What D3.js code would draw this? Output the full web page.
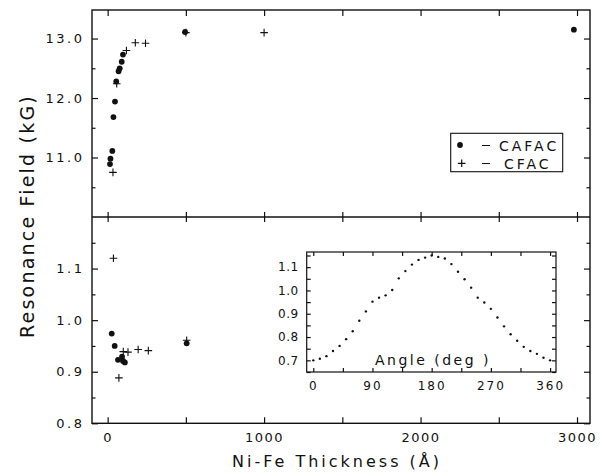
<!DOCTYPE html>
<html>
<head>
<meta charset="utf-8">
<script src="https://cdn.jsdelivr.net/npm/d3@7"></script>
<style>
body { margin: 0; background: #fff; }
svg { display: block; }
text { font-family: "DejaVu Sans", sans-serif; fill: #111; }
.axis path { display: none; }
.axis line { stroke: #111; stroke-width: 1.2; }
</style>
</head>
<body>
<svg id="chart" width="601" height="475"></svg>
<script>
// top panel (kG)
var cafacTopX = [15, 18, 30, 37, 47, 55, 70, 77, 90, 98, 495, 2980];
var cafacTopY = [10.89, 10.98, 11.11, 11.68, 11.94, 12.28, 12.45, 12.50, 12.61, 12.73, 13.11, 13.15];
var cfacTopX = [34, 58, 120, 177, 242, 500, 1000];
var cfacTopY = [10.75, 12.24, 12.80, 12.93, 12.92, 13.10, 13.10];
// bottom panel
var cafacBotX = [26, 45, 66, 92, 98, 110, 505];
var cafacBotY = [0.974, 0.950, 0.923, 0.929, 0.921, 0.918, 0.955];
var cfacBotX = [37, 72, 100, 130, 195, 260, 505];
var cfacBotY = [1.120, 0.888, 0.939, 0.938, 0.943, 0.941, 0.961];
// inset
var angles = [0,10,20,30,40,50,60,70,80,90,100,110,120,130,140,150,160,170,180,
              190,200,210,220,230,240,250,260,270,280,290,300,310,320,330,340,350,360];
var angleField = [0.700,0.707,0.718,0.740,0.762,0.791,0.825,0.870,0.910,0.952,0.969,0.979,1.002,
                  1.052,1.083,1.111,1.131,1.141,1.150,1.144,1.137,1.113,1.080,1.048,1.012,0.969,
                  0.948,0.921,0.884,0.846,0.812,0.784,0.758,0.740,0.728,0.711,0.700];
// ticks
var xTicks = [0, 500, 1000, 1500, 2000, 2500, 3000];
var xLabels = [0, 1000, 2000, 3000];
var topTicks = [11.0, 12.0, 13.0];
var topMinor = [10.5, 11.5, 12.5];
var botTicks = [0.8, 0.9, 1.0, 1.1];
var botMinor = [0.85, 0.95, 1.05, 1.15];
var inXTicks = [0, 45, 90, 135, 180, 225, 270, 315, 360];
var inXLabels = [0, 90, 180, 270, 360];
var inYTicks = [0.65, 0.7, 0.75, 0.8, 0.85, 0.9, 0.95, 1.0, 1.05, 1.1, 1.15];
var inYLabels = [0.7, 0.8, 0.9, 1.0, 1.1];

var svg = d3.select("#chart");
var L = 92, R = 590, T = 10, M = 217, B = 423.3;

var x = d3.scaleLinear().domain([-100, 3083]).range([L, R]);
var yTop = d3.scaleLinear().domain([10.0, 13.48]).range([M, T]);
var yBot = d3.scaleLinear().domain([0.8, 1.2]).range([B, M]);

function zip(a, b) { return a.map(function(v, i) { return [v, b[i]]; }); }

function ticks(gen, tx, ty, len, vals, fmt, pad, cls) {
  var g = svg.append("g").attr("class", "axis " + (cls || ""))
    .attr("transform", "translate(" + tx + "," + ty + ")")
    .call(gen.tickValues(vals).tickSizeInner(-len).tickSizeOuter(0)
      .tickPadding(pad || 0).tickFormat(fmt || ""));
  return g;
}

// main x ticks on every horizontal frame line
ticks(d3.axisBottom(x), 0, B, 6, xTicks, null);
ticks(d3.axisTop(x), 0, T, 6, xTicks, null);
ticks(d3.axisBottom(x), 0, M, 5, xTicks, null);
ticks(d3.axisTop(x), 0, M, 5, xTicks, null);

var xl = ticks(d3.axisBottom(x), 0, B, 0, xLabels, d3.format("d"), 9);
xl.selectAll("text").style("font-size", "13px").style("letter-spacing", "1.5px");

// top panel y
var yl = ticks(d3.axisLeft(yTop), L, 0, 6, topTicks, d3.format(".1f"), 7.5);
yl.selectAll("text").style("font-size", "13px").style("letter-spacing", "2.5px");
ticks(d3.axisLeft(yTop), L, 0, 3.5, topMinor, null);
ticks(d3.axisRight(yTop), R, 0, 6, topTicks, null);
ticks(d3.axisRight(yTop), R, 0, 3.5, topMinor, null);

// bottom panel y
var yl2 = ticks(d3.axisLeft(yBot), L, 0, 6, botTicks, d3.format(".1f"), 7.5);
yl2.selectAll("text").style("font-size", "13px").style("letter-spacing", "2.5px");
ticks(d3.axisLeft(yBot), L, 0, 3.5, botMinor, null);
ticks(d3.axisRight(yBot), R, 0, 6, botTicks, null);
ticks(d3.axisRight(yBot), R, 0, 3.5, botMinor, null);

// frames
svg.append("rect").attr("x", L).attr("y", T).attr("width", R - L).attr("height", B - T)
  .attr("fill", "none").attr("stroke", "#111").attr("stroke-width", 1.4);
svg.append("line").attr("x1", L).attr("x2", R).attr("y1", M).attr("y2", M)
  .attr("stroke", "#111").attr("stroke-width", 1.4);

function dots(data, xs, ys, r) {
  svg.append("g").selectAll("circle").data(data).enter().append("circle")
    .attr("cx", function(d) { return xs(d[0]); })
    .attr("cy", function(d) { return ys(d[1]); })
    .attr("r", r).attr("fill", "#111");
}
function crosses(data, xs, ys, s) {
  svg.append("g").selectAll("path").data(data).enter().append("path")
    .attr("d", function(d) {
      var cx = xs(d[0]), cy = ys(d[1]);
      return "M" + (cx - s) + "," + cy + "H" + (cx + s) + "M" + cx + "," + (cy - s) + "V" + (cy + s);
    })
    .attr("stroke", "#111").attr("stroke-width", 1.1).attr("fill", "none");
}

crosses(zip(cfacTopX, cfacTopY), x, yTop, 3.8);
dots(zip(cafacTopX, cafacTopY), x, yTop, 2.9);
crosses(zip(cfacBotX, cfacBotY), x, yBot, 3.8);
dots(zip(cafacBotX, cafacBotY), x, yBot, 2.9);

// legend
var lg = svg.append("g");
lg.append("rect").attr("x", 450.7).attr("y", 133.3).attr("width", 112).attr("height", 38.4)
  .attr("fill", "#fff").attr("stroke", "#111").attr("stroke-width", 1.1);
lg.append("circle").attr("cx", 460).attr("cy", 145).attr("r", 2.9).attr("fill", "#111");
lg.append("path").attr("d", "M457.9,163.3H465.5M461.7,159.5V167.1")
  .attr("stroke", "#111").attr("stroke-width", 1.2);
lg.append("path").attr("d", "M482,145.5H490M482,163.5H490")
  .attr("stroke", "#111").attr("stroke-width", 1.2);
lg.append("text").attr("x", 499).attr("y", 150.6).text("CAFAC")
  .style("font-size", "14px").style("letter-spacing", "3px");
lg.append("text").attr("x", 504).attr("y", 168.5).text("CFAC")
  .style("font-size", "14px").style("letter-spacing", "3px");

// inset
var iL = 306.7, iR = 556, iT = 252, iB = 372;
var xIn = d3.scaleLinear().domain([-10, 369]).range([iL, iR]);
var yIn = d3.scaleLinear().domain([0.65, 1.165]).range([iB, iT]);

svg.append("rect").attr("x", iL).attr("y", iT).attr("width", iR - iL).attr("height", iB - iT)
  .attr("fill", "#fff").attr("stroke", "none");
ticks(d3.axisBottom(xIn), 0, iB, 4, inXTicks, null);
ticks(d3.axisTop(xIn), 0, iT, 4, inXTicks, null);
ticks(d3.axisLeft(yIn), iL, 0, 4, inYTicks, null);
ticks(d3.axisRight(yIn), iR, 0, 4, inYTicks, null);
var ixl = ticks(d3.axisBottom(xIn), 0, iB, 0, inXLabels, d3.format("d"), 9.5);
ixl.selectAll("text").style("font-size", "12px").style("letter-spacing", "2px");
var iyl = ticks(d3.axisLeft(yIn), iL, 0, 0, inYLabels, d3.format(".1f"), 8);
iyl.selectAll("text").style("font-size", "12px").style("letter-spacing", "0.5px");
svg.append("rect").attr("x", iL).attr("y", iT).attr("width", iR - iL).attr("height", iB - iT)
  .attr("fill", "none").attr("stroke", "#111").attr("stroke-width", 1.2);

dots(zip(angles, angleField), xIn, yIn, 1.2);

svg.append("text").attr("x", 433).attr("y", 365).attr("text-anchor", "middle")
  .text("Angle (deg )").style("font-size", "14px").style("letter-spacing", "2.5px");

// axis titles
svg.append("text").attr("x", 337).attr("y", 467).attr("text-anchor", "middle")
  .text("Ni-Fe Thickness (\u00c5)").style("font-size", "16px").style("letter-spacing", "3px");
svg.append("text").attr("transform", "translate(33.5,216) rotate(-90)").attr("text-anchor", "middle")
  .text("Resonance Field (kG)").style("font-size", "19px").style("letter-spacing", "2.2px");
</script>
</body>
</html>
